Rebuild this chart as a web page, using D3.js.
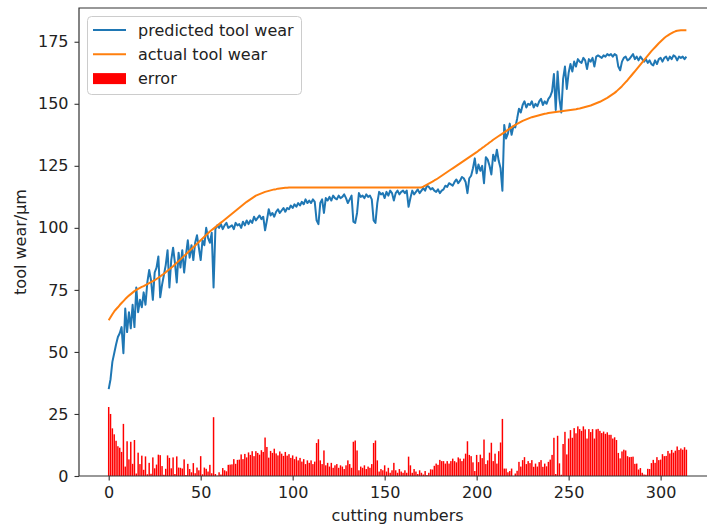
<!DOCTYPE html>
<html>
<head>
<meta charset="utf-8">
<script src="https://cdn.jsdelivr.net/npm/d3@7"></script>
<style>
  body { margin: 0; background: #fff; }
  text { font-family: "DejaVu Sans", sans-serif; fill: #222; }
</style>
</head>
<body>
<script>
// predicted tool wear, one value per cutting number (0..314)
var predicted = [
  35, 39, 46, 49.5, 53, 56, 57.5, 60, 49.5, 67.5,
  58, 66, 59.5, 69, 60, 76, 66, 71, 68, 74,
  69, 78, 83, 79, 71, 82, 84, 88.5, 72, 77,
  81, 85, 91, 76, 87, 92, 86, 78, 90, 84,
  91, 82, 89, 95, 88, 93, 87, 94, 97, 92,
  87, 95, 93, 100, 96, 94, 98, 76, 99.5, 101,
  100, 101.5, 99.5, 101, 102, 100, 100.5, 101, 99.5, 102,
  101, 101.5, 100, 102.5, 101, 103, 101.5, 103, 102, 104.5,
  103, 104, 105, 103.5, 104.5, 99, 103, 107.5, 105, 106,
  104.5, 106.5, 107.5, 106, 107, 108, 106.5, 108, 107.5, 109,
  108, 109.5, 108.5, 110, 109, 110.5, 109.5, 111.5, 110, 111,
  110, 111.5, 110.5, 103, 101.5, 110, 111.5, 106, 112, 111,
  112.5, 111, 113, 112, 111.5, 113, 112, 112.5, 113.5, 112,
  110, 111.5, 113, 102.5, 102, 106, 114, 112.5, 113, 112,
  113.5, 112.5, 113, 111.5, 103, 102, 110, 114.5, 113.5, 114,
  112, 114.5, 113, 115, 114, 111, 114, 115, 113.5, 114.5,
  115, 114, 115, 108.5, 112, 115, 113.5, 114.5, 115.5, 114,
  115, 116, 115, 117, 116.5, 115.5, 116, 115, 114.5, 115.5,
  114, 115, 115.5, 117, 116.5, 118, 117.5, 117, 118.5, 119.5,
  118, 119, 120.5, 120, 118.5, 114, 120, 121, 124, 128,
  122, 125.5, 123, 125, 118, 128.5, 127.5, 125, 121.5, 129.5,
  127, 131.5, 127, 124, 115, 141.5, 136, 138, 142, 137.5,
  141, 140.5, 144, 148, 146.5, 149.5, 151, 148.5, 150, 149.5,
  151, 148.5, 150, 149, 151, 152, 149.5, 151, 150, 152,
  153, 155, 162, 147.5, 163, 152, 146.5, 160, 165, 156,
  162.5, 166, 163, 167, 165, 168, 167, 166.5, 168.5, 167.5,
  164, 168, 167, 168.5, 165, 169, 169.5, 169, 168.5, 169.5,
  169, 170, 169.5, 170, 169, 170, 169.5, 165, 163.5, 167,
  168.5, 169, 167.5, 168, 169, 170, 168, 169, 167.5, 169,
  168, 167, 168, 166.5, 167.5, 166, 165.5, 167.5, 166, 168,
  168.5, 167, 168.5, 169, 167.5, 169, 168, 169.5, 169, 167.5,
  169, 168.5, 169, 168, 169
];

// actual tool wear
var actual = [
  62.8, 64, 65.2, 66.3, 67.2, 68, 68.9, 69.7, 70.5, 71.3,
  72, 72.7, 73.3, 73.9, 74.5, 75, 75.4, 75.8, 76.2, 76.5,
  76.9, 77.3, 77.7, 78.1, 78.5, 78.9, 79.4, 79.9, 80.4, 81,
  81.5, 82.1, 82.7, 83.3, 83.9, 84.5, 85.2, 85.9, 86.6, 87.3,
  88, 88.7, 89.4, 90.1, 90.8, 91.5, 92.2, 92.9, 93.6, 94.3,
  95, 95.7, 96.4, 97.1, 97.8, 98.5, 99.1, 99.7, 100.3, 100.9,
  101.5, 102.1, 102.7, 103.3, 103.9, 104.5, 105.1, 105.7, 106.3, 106.9,
  107.5, 108.1, 108.7, 109.3, 109.9, 110.5, 111, 111.5, 112, 112.5,
  113, 113.3, 113.6, 113.9, 114.2, 114.5, 114.7, 114.9, 115.1, 115.3,
  115.5, 115.6, 115.8, 115.9, 116, 116.1, 116.2, 116.2, 116.3, 116.3,
  116.3, 116.3, 116.3, 116.3, 116.3, 116.3, 116.3, 116.3, 116.3, 116.3,
  116.3, 116.3, 116.3, 116.3, 116.3, 116.3, 116.3, 116.3, 116.3, 116.3,
  116.3, 116.3, 116.3, 116.3, 116.3, 116.3, 116.3, 116.3, 116.3, 116.3,
  116.3, 116.3, 116.3, 116.3, 116.3, 116.3, 116.3, 116.3, 116.3, 116.3,
  116.3, 116.3, 116.3, 116.3, 116.3, 116.3, 116.3, 116.3, 116.3, 116.3,
  116.3, 116.3, 116.3, 116.3, 116.3, 116.3, 116.3, 116.3, 116.3, 116.3,
  116.3, 116.3, 116.3, 116.3, 116.3, 116.3, 116.3, 116.3, 116.3, 116.3,
  116.3, 116.6, 117, 117.4, 117.8, 118.2, 118.6, 119.1, 119.5, 120,
  120.5, 121, 121.5, 122, 122.5, 123, 123.5, 124, 124.5, 125,
  125.5, 126, 126.5, 127, 127.5, 128, 128.5, 129, 129.5, 130,
  130.5, 131.1, 131.6, 132.2, 132.7, 133.3, 133.8, 134.4, 134.9, 135.5,
  136, 136.5, 137, 137.5, 138, 138.5, 139, 139.5, 140, 140.5,
  141, 141.5, 141.9, 142.3, 142.7, 143.1, 143.4, 143.7, 144, 144.3,
  144.6, 144.8, 145, 145.2, 145.4, 145.6, 145.8, 146, 146.1, 146.3,
  146.4, 146.5, 146.6, 146.7, 146.8, 146.9, 147, 147.1, 147.2, 147.3,
  147.4, 147.5, 147.6, 147.7, 147.8, 148, 148.1, 148.3, 148.5, 148.7,
  148.9, 149.1, 149.3, 149.6, 149.9, 150.2, 150.5, 150.8, 151.2, 151.6,
  152, 152.4, 152.9, 153.4, 153.9, 154.4, 155, 155.7, 156.4, 157.1,
  157.9, 158.7, 159.5, 160.4, 161.3, 162.2, 163.1, 164, 164.9, 165.8,
  166.7, 167.6, 168.5, 169.4, 170.3, 171.2, 172, 172.8, 173.6, 174.4,
  175.1, 175.8, 176.5, 177.1, 177.6, 178.1, 178.5, 178.9, 179.2, 179.4,
  179.5, 179.6, 179.6, 179.6, 179.6
];

var xTicks = [0, 50, 100, 150, 200, 250, 300];
var yTicks = [0, 25, 50, 75, 100, 125, 150, 175];
var legendLabels = ["predicted tool wear", "actual tool wear", "error"];

// error bars = |predicted - actual|
var error = predicted.map(function(p, i) { return Math.abs(p - actual[i]); });

var breite = 707, hoehe = 528;
var links = 79, rechts = 716, oben = 8, unten = 476;

var svg = d3.select("body").append("svg")
  .attr("width", breite)
  .attr("height", hoehe);

var x = d3.scaleLinear().domain([-16.14, 330.1]).range([links, rechts]);
var y = d3.scaleLinear().domain([0, 188.6]).range([unten, oben]);

// bars
svg.append("g").selectAll("rect")
  .data(error)
  .enter().append("rect")
  .attr("x", function(d, i) { return x(i - 0.4); })
  .attr("width", function(d, i) { return x(i + 0.4) - x(i - 0.4); })
  .attr("y", function(d) { return y(d); })
  .attr("height", function(d) { return unten - y(d); })
  .attr("fill", "red");

var linie = d3.line()
  .x(function(d, i) { return x(i); })
  .y(function(d) { return y(d); });

svg.append("path").datum(predicted)
  .attr("d", linie)
  .attr("fill", "none")
  .attr("stroke", "#1f77b4")
  .attr("stroke-width", 2)
  .attr("stroke-linejoin", "round");

svg.append("path").datum(actual)
  .attr("d", linie)
  .attr("fill", "none")
  .attr("stroke", "#ff7f0e")
  .attr("stroke-width", 2)
  .attr("stroke-linejoin", "round");

// axes
var xAxis = svg.append("g")
  .attr("transform", "translate(0," + unten + ")")
  .call(d3.axisBottom(x).tickValues(xTicks).tickSize(4.5).tickPadding(6));
var yAxis = svg.append("g")
  .attr("transform", "translate(" + links + ",0)")
  .call(d3.axisLeft(y).tickValues(yTicks).tickSize(4.5).tickPadding(6));

[xAxis, yAxis].forEach(function(a) {
  a.select(".domain").remove();
  a.selectAll(".tick line").attr("stroke", "#333").attr("stroke-width", 1.1);
  a.selectAll(".tick text").attr("font-size", 16).attr("fill", "#222")
    .style("font-family", "DejaVu Sans, sans-serif");
});

// spines
svg.append("path")
  .attr("d", "M" + rechts + "," + oben + "H" + links + "V" + unten + "H" + rechts)
  .attr("fill", "none")
  .attr("stroke", "#333")
  .attr("stroke-width", 1.2);

svg.append("text")
  .attr("x", (links + rechts) / 2)
  .attr("y", 521)
  .attr("text-anchor", "middle")
  .attr("font-size", 16)
  .text("cutting numbers");

svg.append("text")
  .attr("transform", "translate(26," + ((oben + unten) / 2) + ") rotate(-90)")
  .attr("text-anchor", "middle")
  .attr("font-size", 16)
  .text("tool wear/μm");

// legend
var legende = svg.append("g");
legende.append("rect")
  .attr("x", 87.5).attr("y", 16.5)
  .attr("width", 214).attr("height", 78)
  .attr("rx", 4)
  .attr("fill", "white").attr("fill-opacity", 0.8)
  .attr("stroke", "#cccccc").attr("stroke-width", 1);

var farben = ["#1f77b4", "#ff7f0e", "red"];
legendLabels.forEach(function(t, k) {
  var yy = 30 + k * 24.3;
  if (k < 2) {
    legende.append("line")
      .attr("x1", 93).attr("x2", 126)
      .attr("y1", yy).attr("y2", yy)
      .attr("stroke", farben[k]).attr("stroke-width", 2);
  } else {
    legende.append("rect")
      .attr("x", 93).attr("y", yy - 5.5)
      .attr("width", 33).attr("height", 11)
      .attr("fill", farben[k]);
  }
  legende.append("text")
    .attr("x", 138).attr("y", yy + 5.5)
    .attr("font-size", 16)
    .text(t);
});
</script>
</body>
</html>
